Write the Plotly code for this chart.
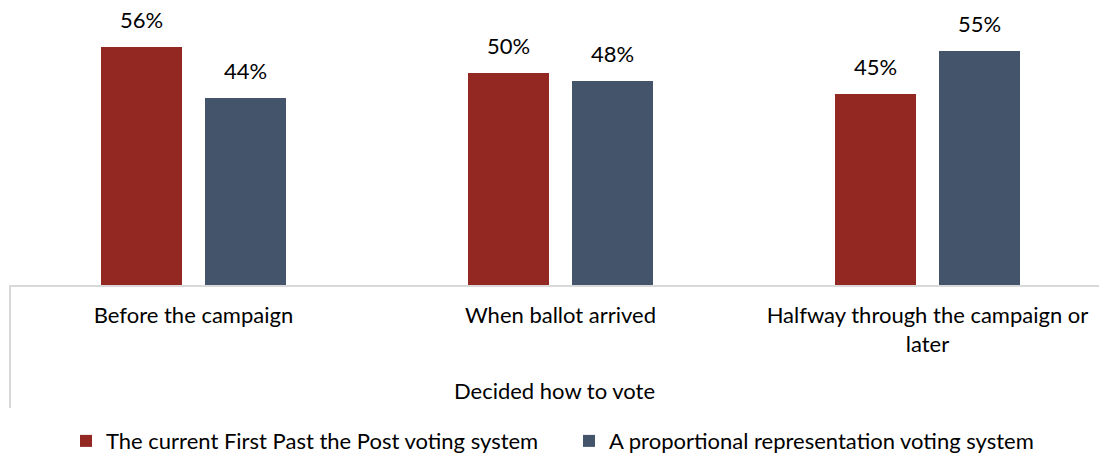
import plotly.graph_objects as go

categories = ["Before the campaign", "When ballot arrived", "Halfway through the campaign or<br>later"]
series_names = ["The current First Past the Post voting system", "A proportional representation voting system"]
fptp = [56, 50, 45]
pr = [44, 48, 55]
colors = ["#922821", "#44546A"]

FONT = "Lato"
FS = 22
fig = go.Figure()
annotations = []
for name, vals, col, off, shift in [(series_names[0], fptp, colors[0], -0.2534, -52.5),
                                    (series_names[1], pr, colors[1], 0.030, 52.0)]:
    fig.add_trace(go.Bar(
        x=categories, y=vals, name=name, marker=dict(color=col, line=dict(width=0)),
        width=0.222, offset=off, hoverinfo="skip",
    ))
    for c, v in zip(categories, vals):
        annotations.append(dict(x=c, y=v, xref="x", yref="y", text=f"{v}%", showarrow=False,
                                xshift=shift, yshift=12, yanchor="bottom",
                                font=dict(size=FS, family=FONT, color="#000000")))

fig.update_layout(
    width=1099, height=456,
    margin=dict(l=10, r=0, t=0, b=171, autoexpand=False),
    paper_bgcolor="white", plot_bgcolor="white",
    font=dict(family=FONT, size=FS, color="#000000"),
    bargap=0, barmode="overlay",
    xaxis=dict(
        type="category", range=[-0.5, -0.5 + 1089 / 367], automargin=False,
        showline=True, linecolor="#d9d9d9", linewidth=2, showgrid=False,
        ticks="", ticklabelstandoff=10,
        tickfont=dict(size=FS, family=FONT, color="#000000"),
        title=dict(text="Decided how to vote", font=dict(size=FS, family=FONT, color="#000000"), standoff=28),
    ),
    yaxis=dict(range=[0, 285 / 4.25], visible=False, showgrid=False, automargin=False),
    legend=dict(orientation="h", x=(66 - 10) / 1089, xanchor="left", y=-0.474, yanchor="top",
                entrywidth=458, entrywidthmode="pixels",
                font=dict(size=FS, family=FONT, color="#000000"), itemclick=False),
    annotations=annotations,
    shapes=[dict(type="line", xref="paper", yref="paper", x0=0, x1=0, y0=0, y1=-123 / 285,
                 line=dict(color="#d9d9d9", width=2))],
)
fig.write_html("out.html")
